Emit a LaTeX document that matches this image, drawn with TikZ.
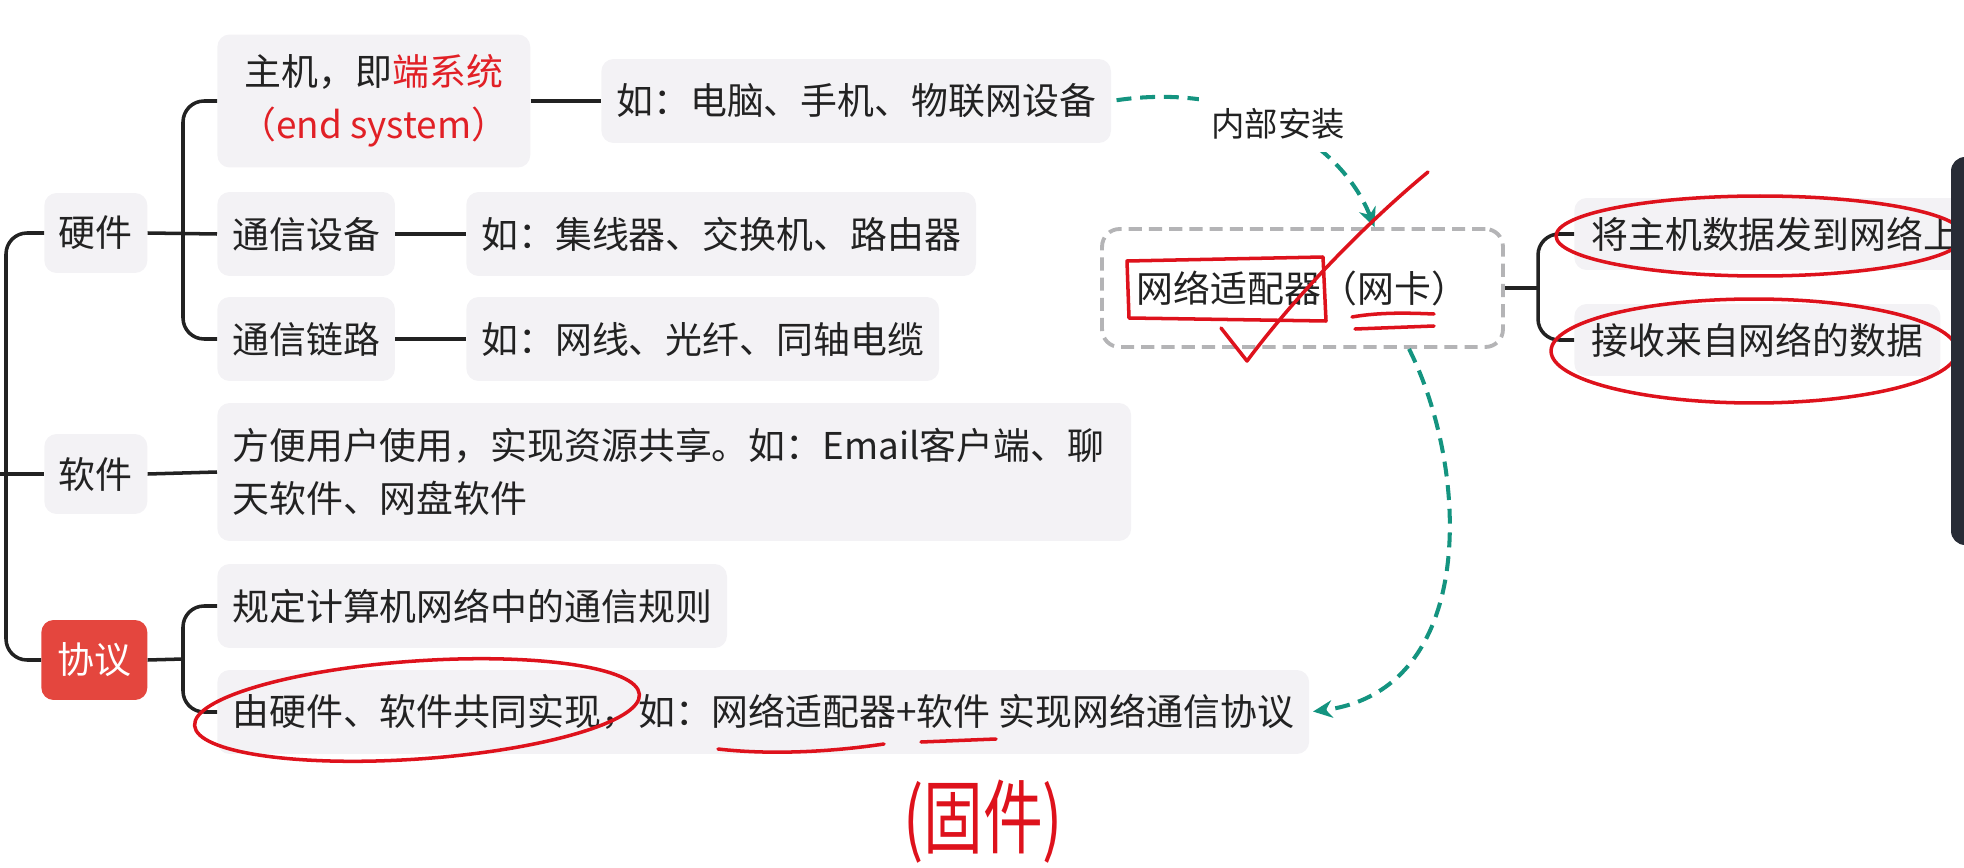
\documentclass[tikz,border=0pt]{standalone}
\usepackage{fontspec}
\setmainfont{Noto Sans CJK SC}
\usetikzlibrary{arrows.meta}
\definecolor{boxgray}{RGB}{243,242,245}
\definecolor{inkblack}{RGB}{34,34,34}
\definecolor{hotred}{RGB}{225,32,38}
\definecolor{protored}{RGB}{228,70,62}
\definecolor{flowteal}{RGB}{20,148,128}
\definecolor{dashgray}{RGB}{180,180,182}
\definecolor{penred}{RGB}{222,18,28}
\definecolor{barblue}{RGB}{40,44,54}

\begin{document}
\begin{tikzpicture}[x=0.02cm, y=-0.02cm, >={Stealth[length=11pt,width=10pt]},
  every node/.style={font=\fontsize{21pt}{30pt}\selectfont, text=inkblack},
  leaf/.style={fill=boxgray, rounded corners=7pt, anchor=west, inner xsep=0.3cm, minimum height=1.68cm},
  topic/.style={leaf, inner xsep=0pt, minimum width=2.06cm, minimum height=1.6cm},
  link/.style={line width=2pt, draw=inkblack},
  flow/.style={draw=flowteal, line width=2.3pt, dash pattern=on 8.5pt off 5pt, ->},
  pen/.style={draw=penred, line width=2pt, line cap=round, line join=round}]
\useasboundingbox (0,0) rectangle (1964,868);
\clip (0,0) rectangle (1964,868);

% first level
\node[topic] (hw) at (44,233) {硬件};
\node[topic] (sw) at (44,474) {软件};
\node[topic, fill=protored, text=white, minimum width=2.12cm] (proto) at (41,660) {协议};

% hardware
\node[leaf, align=center, minimum width=6.26cm, minimum height=2.66cm] (host) at (217,101)
  {主机，即\textcolor{hotred}{端系统}\\\textcolor{hotred}{（end system）}};
\node[leaf] (hostex) at (601,101) {如：电脑、手机、物联网设备};
\node[leaf] (dev) at (217,234) {通信设备};
\node[leaf] (devex) at (466,234) {如：集线器、交换机、路由器};
\node[leaf] (cable) at (217,339) {通信链路};
\node[leaf] (cableex) at (466,339) {如：网线、光纤、同轴电缆};

% software and protocol
\node[leaf, align=left, text width=17.68cm, minimum height=2.76cm] (swex) at (217,472)
  {方便用户使用，实现资源共享。如：Email客户端、聊\\天软件、网盘软件};
\node[leaf] (rule) at (217,606) {规定计算机网络中的通信规则};
\node[leaf] (impl) at (217,712) {由硬件、软件共同实现，如：网络适配器+软件 实现网络通信协议};

% network adapter
\node[draw=dashgray, dash pattern=on 7.5pt off 4pt, line width=2.2pt, rounded corners=10pt, fill=white,
  minimum width=8.02cm, minimum height=2.36cm] (nic) at (1302.5,288) {网络适配器（网卡）};
\node[leaf, inner xsep=0.34cm, minimum height=1.44cm] (send) at (1574,234) {将主机数据发到网络上};
\node[leaf, inner xsep=0.34cm, minimum height=1.44cm] (recv) at (1574,340) {接收来自网络的数据};

% tree lines
\coordinate (root) at (0,474);
\coordinate (trunk) at (6,474);
\coordinate (hwfork) at (183,234);
\coordinate (protofork) at (183,659);
\coordinate (nicfork) at (1538,288);
\draw[link, rounded corners=12pt] (hw.west) -| (trunk) |- (proto.west);
\draw[link] (root) -- (sw.west);
\draw[link] (hw.east) -- (dev.west);
\draw[link, rounded corners=12pt] (host.west) -| (hwfork) |- (cable.west);
\draw[link] (host.east) -- (hostex.west);
\draw[link] (dev.east) -- (devex.west);
\draw[link] (cable.east) -- (cableex.west);
\draw[link] (sw.east) -- (swex.west);
\draw[link] (proto.east) -- (protofork);
\draw[link, rounded corners=12pt] (rule.west) -| (protofork) |- (impl.west);
\draw[link] (nic.east) -- (nicfork);
\draw[link, rounded corners=12pt] (send.west) -| (nicfork) |- (recv.west);

% dashed relations
\draw[flow, shorten <=3pt] (hostex.east) .. controls (1240,82) and (1340,140) .. ([xshift=1.44cm]nic.north)
  node[pos=0.5, fill=white, inner sep=7pt, font=\fontsize{19pt}{24pt}\selectfont] (install) {内部安装};
\draw[flow, shorten >=2pt] ([xshift=2.13cm]nic.south) .. controls (1470,470) and (1478,690) .. (impl.east);

% red pen marks
\draw[pen] (1127,261) -- (1323,257) -- (1326,321) -- (1129,318) -- cycle;
\draw[pen] (1221,328) -- (1247,361) .. controls (1300,290) and (1370,220) .. (1428,172);
\draw[pen] (1352,317) .. controls (1380,312) and (1410,313) .. (1434,314);
\draw[pen] (1355,329) -- (1434,326);
\draw[pen] (1760,236) ellipse [x radius=4.08cm, y radius=0.8cm];
\draw[pen] (1754,351) ellipse [x radius=4.06cm, y radius=1.04cm];
\draw[pen, rotate around={4:(417,710)}] (417,710) ellipse [x radius=4.46cm, y radius=0.98cm];
\draw[pen] (718,749) .. controls (770,755) and (830,752) .. (884,744);
\draw[pen] (921,742) -- (996,739);
\node[text=penred, font=\fontsize{40pt}{40pt}\selectfont] (firmware) at (983,822) {\scalebox{0.85}[1.15]{(固件)}};

% screen edge
\fill[barblue, rounded corners=8pt] (1951,157) rectangle (1985,545);
\end{tikzpicture}
\end{document}
